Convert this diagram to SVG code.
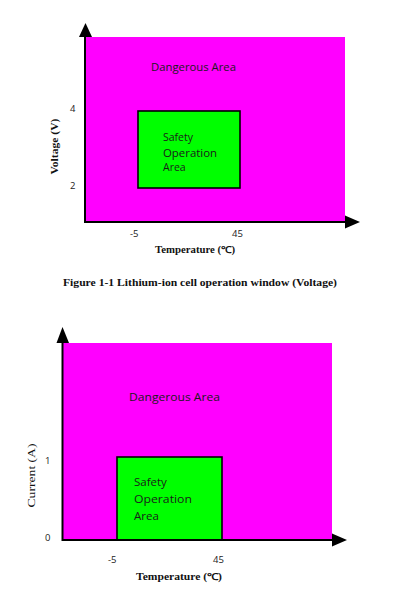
<svg xmlns="http://www.w3.org/2000/svg" width="400" height="596" viewBox="0 0 400 596">
<style>
.danger{fill:#ff00ff}
.safe{fill:#00ff00;stroke:#000;stroke-width:1.6}
.axis{stroke:#000;stroke-width:2;fill:none}
.lbl{font-family:"Open Sans","Liberation Sans",sans-serif;font-size:10.5px;fill:#1a1a1a}
.lbl2{font-family:"Open Sans","Liberation Sans",sans-serif;font-size:11.5px;fill:#1a1a1a}
.tick{font-family:"Open Sans","Liberation Sans",sans-serif;font-size:9.5px;fill:#222}
.ttl{font-family:"Liberation Serif",serif;font-weight:bold;fill:#111}
.ttlr{font-family:"Liberation Serif",serif;fill:#111}
</style>
<rect width="400" height="596" fill="#fff"/>

<g id="chart1">
<g id="danger1"><rect class="danger" x="85" y="37" width="260" height="185"/>
<text class="lbl" x="151" y="71" textLength="85" lengthAdjust="spacingAndGlyphs">Dangerous Area</text></g>
<g id="safe1"><rect class="safe" x="138" y="111" width="102" height="77"/>
<text class="lbl" x="163" y="141">Safety</text>
<text class="lbl" x="163" y="157" textLength="54" lengthAdjust="spacingAndGlyphs">Operation</text>
<text class="lbl" x="163" y="171">Area</text></g>
<g id="axes1">
<line class="axis" x1="85" y1="222" x2="85" y2="36"/>
<polygon points="79,37 92,37 85.5,23" fill="#000"/>
<line class="axis" x1="84" y1="222" x2="346" y2="222"/>
<polygon points="345,215.5 345,228.5 360,222" fill="#000"/>
</g>
<g id="ticks1">
<text class="tick" x="70" y="112">4</text>
<text class="tick" x="70" y="189">2</text>
<text class="tick" x="130" y="237">-5</text>
<text class="tick" x="232" y="237">45</text>
</g>
<text class="ttl" x="155" y="253" font-size="9.5" textLength="80" lengthAdjust="spacingAndGlyphs">Temperature (℃)</text>
<text class="ttl" x="0" y="0" font-size="10.5" transform="translate(58,146.5) rotate(-90)" text-anchor="middle" textLength="56" lengthAdjust="spacingAndGlyphs">Voltage (V)</text>
<text class="ttl" x="63" y="286" font-size="10.5" textLength="274" lengthAdjust="spacingAndGlyphs">Figure 1-1 Lithium-ion cell operation window (Voltage)</text>
</g>

<g id="chart2">
<g id="danger2"><rect class="danger" x="63" y="343" width="269" height="197"/>
<text class="lbl2" x="129" y="401" textLength="91" lengthAdjust="spacingAndGlyphs">Dangerous Area</text></g>
<g id="safe2"><rect class="safe" x="117" y="457" width="105" height="83"/>
<text class="lbl2" x="134" y="486">Safety</text>
<text class="lbl2" x="134" y="503" textLength="58" lengthAdjust="spacingAndGlyphs">Operation</text>
<text class="lbl2" x="134" y="520">Area</text></g>
<g id="axes2">
<line class="axis" x1="62.5" y1="541" x2="62.5" y2="342"/>
<polygon points="56.5,343 69,343 62.5,327" fill="#000"/>
<line class="axis" x1="62" y1="540" x2="333" y2="540"/>
<polygon points="332,533.5 332,546.5 347,540" fill="#000"/>
</g>
<g id="ticks2">
<text class="tick" x="45" y="464">1</text>
<text class="tick" x="45" y="541">0</text>
<text class="tick" x="108" y="563">-5</text>
<text class="tick" x="213" y="563">45</text>
</g>
<text class="ttl" x="136" y="580" font-size="9.5" textLength="86" lengthAdjust="spacingAndGlyphs">Temperature (℃)</text>
<text class="ttlr" x="0" y="0" font-size="10" transform="translate(35,475.5) rotate(-90)" text-anchor="middle" textLength="64" lengthAdjust="spacingAndGlyphs">Current (A)</text>
</g>
</svg>
